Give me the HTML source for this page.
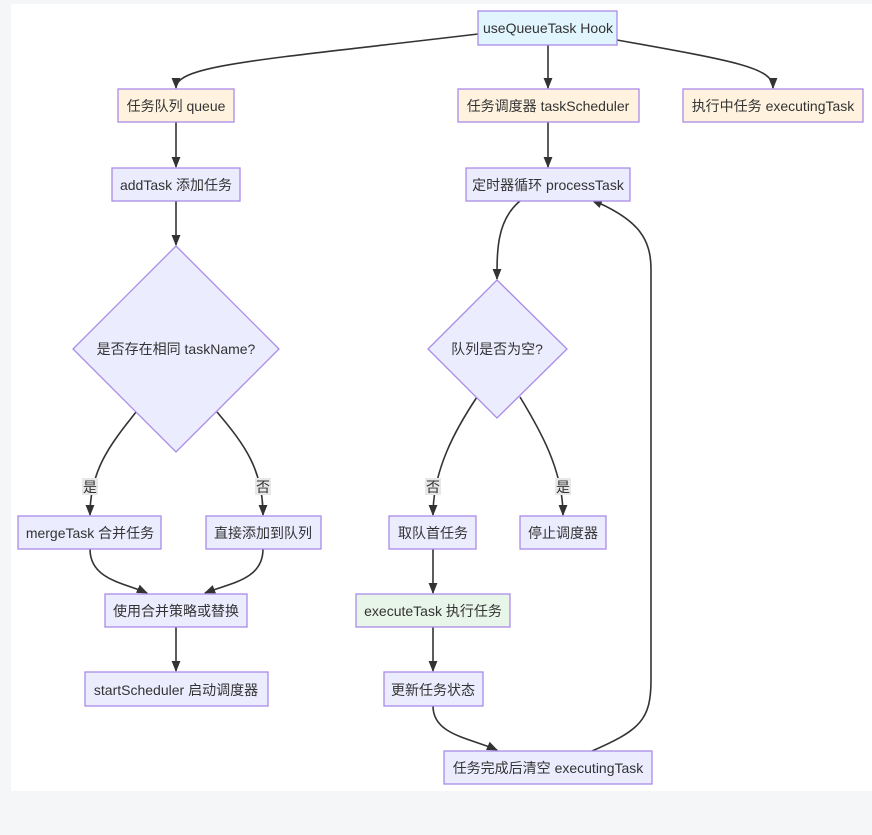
<!DOCTYPE html>
<html><head><meta charset="utf-8"><style>
body{margin:0;background:#f5f6f8;}
svg{display:block}
text{font-family:"Liberation Sans","Noto Sans CJK SC",sans-serif;font-size:14px;fill:#333;}
.n{stroke:#a98be8;stroke-width:1.3}
.e{fill:none;stroke:#333;stroke-width:1.6}
</style></head><body>
<svg width="872" height="835" viewBox="0 0 872 835">
<defs><marker id="a" viewBox="0 0 10 10" refX="9" refY="5" markerWidth="7" markerHeight="7" orient="auto"><path d="M0,1 L10,5 L0,9z" fill="#333"/></marker></defs>
<rect x="11" y="4" width="861" height="787" fill="#fff"/>
<g class="e" marker-end="url(#a)">
<path d="M478,34 C260,60 176,65 176,88"/>
<path d="M548,45 L548,88"/>
<path d="M617,40 C740,62 773,68 773,88"/>
<path d="M176,122 L176,167"/>
<path d="M548,122 L548,167"/>
<path d="M176,201 L176,245"/>
<path d="M520,201 C497,220 497,250 497,279"/>
<path d="M136,412 C110,445 90,470 90,515"/>
<path d="M217,412 C245,445 263,470 263,515"/>
<path d="M477,397 C455,430 433,470 433,515"/>
<path d="M520,397 C540,430 563,470 563,515"/>
<path d="M90,549 C90,580 125,583 147,593"/>
<path d="M263,549 C263,580 230,583 205,593"/>
<path d="M176,627 L176,671"/>
<path d="M433,549 L433,593"/>
<path d="M433,627 L433,671"/>
<path d="M433,706 C433,735 470,738 497,750"/>
<path d="M592,751 C640,730 651,720 651,680 L651,270 C651,240 640,220 592,200"/>
</g>
<g>
<rect x="82" y="478" width="16" height="17" fill="#e8e8e8"/><text x="90" y="492" text-anchor="middle">是</text>
<rect x="255" y="478" width="16" height="17" fill="#e8e8e8"/><text x="263" y="492" text-anchor="middle">否</text>
<rect x="425" y="478" width="16" height="17" fill="#e8e8e8"/><text x="433" y="492" text-anchor="middle">否</text>
<rect x="555" y="478" width="16" height="17" fill="#e8e8e8"/><text x="563" y="492" text-anchor="middle">是</text>
</g>
<g class="n">
<rect x="478" y="11" width="139" height="34" fill="#e1f5fe"/>
<rect x="118" y="89" width="116" height="33" fill="#fff3e0"/>
<rect x="458" y="89" width="181" height="33" fill="#fff3e0"/>
<rect x="683" y="89" width="180" height="33" fill="#fff3e0"/>
<rect x="112" y="168" width="128" height="33" fill="#ececff"/>
<rect x="466" y="168" width="164" height="33" fill="#ececff"/>
<polygon points="176,246 279,349 176,452 73,349" fill="#ececff"/>
<polygon points="497,280 567,349 497,418 428,349" fill="#ececff"/>
<rect x="18" y="516" width="143" height="33" fill="#ececff"/>
<rect x="206" y="516" width="115" height="33" fill="#ececff"/>
<rect x="389" y="516" width="87" height="33" fill="#ececff"/>
<rect x="520" y="516" width="86" height="33" fill="#ececff"/>
<rect x="105" y="594" width="142" height="33" fill="#ececff"/>
<rect x="356" y="594" width="154" height="33" fill="#e8f5e9"/>
<rect x="85" y="672" width="183" height="34" fill="#ececff"/>
<rect x="384" y="672" width="99" height="34" fill="#ececff"/>
<rect x="444" y="751" width="208" height="33" fill="#ececff"/>
</g>
<g text-anchor="middle">
<text x="548" y="33">useQueueTask Hook</text>
<text x="176" y="111">任务队列 queue</text>
<text x="548" y="111">任务调度器 taskScheduler</text>
<text x="773" y="111">执行中任务 executingTask</text>
<text x="176" y="190">addTask 添加任务</text>
<text x="548" y="190">定时器循环 processTask</text>
<text x="176" y="354">是否存在相同 taskName?</text>
<text x="497" y="354">队列是否为空?</text>
<text x="90" y="538">mergeTask 合并任务</text>
<text x="263" y="538">直接添加到队列</text>
<text x="433" y="538">取队首任务</text>
<text x="563" y="538">停止调度器</text>
<text x="176" y="616">使用合并策略或替换</text>
<text x="433" y="616">executeTask 执行任务</text>
<text x="176" y="695">startScheduler 启动调度器</text>
<text x="433" y="695">更新任务状态</text>
<text x="548" y="773">任务完成后清空 executingTask</text>
</g>
</svg>
</body></html>
